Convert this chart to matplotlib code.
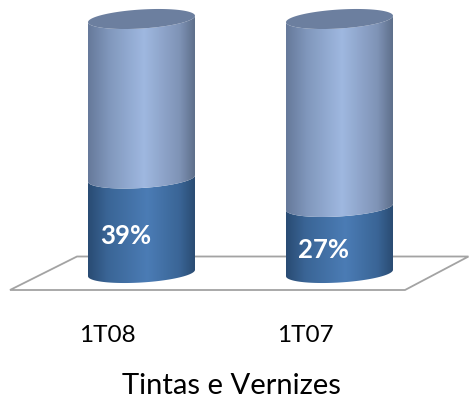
import numpy as np
import matplotlib
matplotlib.use("Agg")
import matplotlib.pyplot as plt
from matplotlib.colors import LinearSegmentedColormap
from matplotlib.patches import Polygon, PathPatch
from matplotlib.path import Path
from matplotlib.transforms import ScaledTranslation

# Data
categories = ["1T08", "1T07"]
drawn_share = [37.2, 26.0]      # height of the lower segment
value_labels = ["39%", "27%"]   # as printed on the chart
total = [100, 100]
axis_title = "Tintas e Vernizes"

W, H = 469, 400
plt.rcParams["font.family"] = ["Lato", "DejaVu Sans"]
fig = plt.figure(figsize=(W / 100, H / 100), dpi=100, facecolor="white")
FLOOR_PX = 290
ax = fig.add_axes([0, (H - FLOOR_PX) / H, 1, FLOOR_PX / H])

X0, XSTEP = 141.5, 198.0   # px of category 0 and px per category
Y0, YSCALE = 273.0, 2.54   # px of value 0 and px per unit
def dx(px): return (px - X0) / XSTEP
def dy(py): return (Y0 - py) / YSCALE

A = 53.5 / XSTEP     # half width
B = 9.5 / YSCALE     # half height of the ellipse
S = 3.2 / YSCALE     # tilt (right side up)

t = np.linspace(0, 2 * np.pi, 121)
def ellipse(c, v):
    return c + A * np.cos(t), v + S * np.cos(t) + B * np.sin(t)

def segment_path(c, v0, v1):
    tt = np.linspace(np.pi, 2 * np.pi, 61)
    xl = c + A * np.cos(tt)
    ylo = v0 + S * np.cos(tt) + B * np.sin(tt)
    yhi = v1 + S * np.cos(tt) + B * np.sin(tt)
    xs = np.r_[xl, xl[::-1], xl[0]]
    ys = np.r_[ylo, yhi[::-1], ylo[0]]
    return Path(np.column_stack([xs, ys]))

cm_low = LinearSegmentedColormap.from_list("low", [(0, "#294b73"), (0.18, "#3a6596"), (0.55, "#4b7cb5"), (0.85, "#3a6596"), (1, "#294a70")])
cm_up = LinearSegmentedColormap.from_list("up", [(0, "#66799a"), (0.2, "#8198bd"), (0.52, "#9fb8e0"), (0.85, "#7f93b6"), (1, "#5c6d88")])
grad = np.linspace(0, 1, 256)[None, :]

# Floor
floor = Polygon([(dx(10), dy(290)), (dx(405), dy(290)), (dx(468.5), dy(256.5)), (dx(77), dy(256.5))],
                closed=True, facecolor="white", edgecolor="#a3a3a3", lw=1.3, clip_on=False, zorder=1)
ax.add_patch(floor)

def gradient(c, v0, v1, cmap, z):
    im = ax.imshow(grad, cmap=cmap, extent=(c - A, c + A, v0 - 10, v1 + 10), aspect="auto", zorder=z, interpolation="bilinear")
    im.set_clip_path(PathPatch(segment_path(c, v0, v1), transform=ax.transData))

for i, (low, tot) in enumerate(zip(drawn_share, total)):
    gradient(i, 0, low, cm_low, 2)
    gradient(i, low, tot, cm_up, 2)
    ex, ey = ellipse(i, tot)
    ax.fill(ex, ey, color="#6c7f9f", zorder=3, lw=0)
    ax.text(i - 0.08, low / 2 - 3.9, value_labels[i], color="white", fontweight="bold",
            fontsize=18.5, ha="center", va="center", zorder=4)

ax.set_xlim(dx(0), dx(W))
ax.set_ylim(dy(FLOOR_PX), dy(0))
ax.set_xticks(range(len(categories)))
ax.set_xticklabels(categories, fontsize=17.5, color="#000000")
ax.tick_params(axis="x", length=0, pad=25)
shift = ScaledTranslation(-34 / 100, 0, fig.dpi_scale_trans)
for lab in ax.get_xticklabels():
    lab.set_transform(lab.get_transform() + shift)
ax.set_yticks([])
for s in ax.spines.values():
    s.set_visible(False)
ax.patch.set_alpha(0)
fig.text(231 / W, 1 - 386.5 / H, axis_title, fontsize=21, ha="center", va="center", color="#000000")

fig.savefig("out.png", dpi=100)
